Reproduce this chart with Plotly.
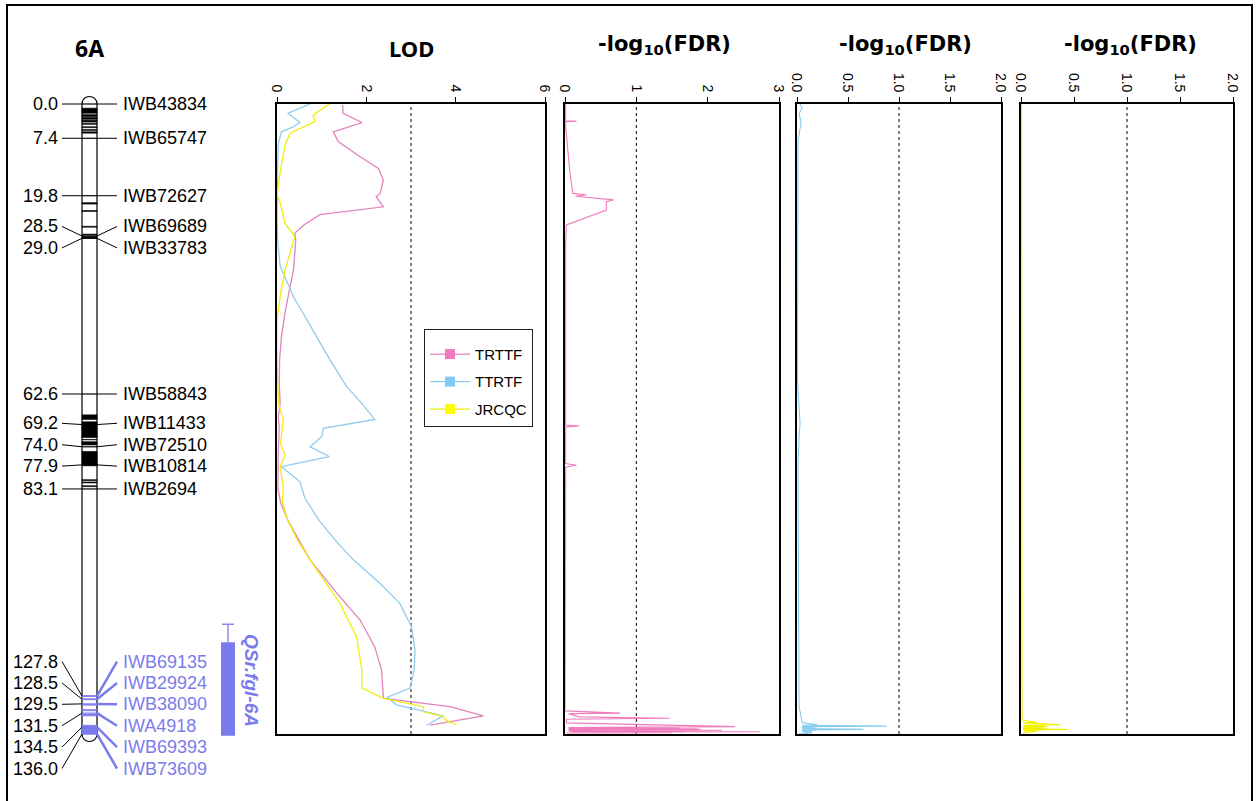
import plotly.graph_objects as go

# ---------------- data ----------------
marker_names = ["IWB43834", "IWB65747", "IWB72627", "IWB69689", "IWB33783", "IWB58843",
                "IWB11433", "IWB72510", "IWB10814", "IWB2694",
                "IWB69135", "IWB29924", "IWB38090", "IWA4918", "IWB69393", "IWB73609"]
marker_pos = [0.0, 7.4, 19.8, 28.5, 29.0, 62.6, 69.2, 74.0, 77.9, 83.1,
              127.8, 128.5, 129.5, 131.5, 134.5, 136.0]

# marker-dense segments on the linkage group (cM)
band_start = [0.9, 2.3, 2.9, 3.5, 4.2, 4.9, 5.5, 6.0, 21.3, 23.0, 26.4, 28.1, 28.6,
              67.1, 68.6, 69.3, 72.4, 72.9, 75.0, 81.1, 81.6, 82.4,
              127.7, 128.4, 129.6, 130.7, 131.7, 134.1]
band_end = [2.0, 2.7, 3.3, 3.9, 4.4, 5.1, 5.7, 6.3, 21.6, 23.2, 26.6, 28.3, 28.9,
            68.1, 69.1, 72.0, 72.5, 73.6, 78.1, 81.3, 81.8, 82.6,
            127.9, 128.6, 129.8, 131.0, 132.1, 136.0]

chrom_name = "6A"
qtl_name = "QSr.fgl-6A"
qtl_start, qtl_end = 116.2, 136.4
qtl_support = 112.3

trait_names = ["TRTTF", "TTRTF", "JRCQC"]
lod_threshold = 3
fdr_threshold = 1

lod_cm_trttf = [0.2, 2.0, 4.0, 6.0, 8.1, 11.4, 13.9, 16.4, 19.3, 20.0, 22.2, 23.9, 26.1, 27.9,
                29.4, 35.8, 40, 45, 50.2, 55, 60, 64.6, 67.5, 70, 75, 80, 83, 86, 90, 94,
                98.4, 105.6, 111.4, 117.2, 122.2, 127.9, 128.3, 130.1, 132.1, 134.1]
lod_trttf = [1.47, 1.48, 1.90, 1.26, 1.37, 1.86, 2.27, 2.38, 2.31, 2.22, 2.38, 0.96, 0.60, 0.40,
             0.42, 0.37, 0.28, 0.18, 0.10, 0.06, 0.05, 0.07, 0.03, 0.05, 0.03, 0.02, 0.02, 0.08,
             0.25, 0.48, 0.74, 1.34, 1.86, 2.19, 2.34, 2.38, 2.40, 3.87, 4.62, 3.43]

lod_cm_ttrtf = [0, 2.0, 4.0, 4.9, 6.0, 8.5, 15, 25, 30, 35, 41.6, 55.3, 61.0, 64.2, 68.1, 70.0,
                71.8, 74.0, 76.1, 78.3, 81.5, 85, 90, 95, 98.4, 103.5, 107.8, 112.8, 117.9,
                122.2, 126.1, 128.1, 129.7, 132.1, 134.1]
lod_ttrtf = [0.74, 0.25, 0.51, 0.37, 0.10, 0.03, 0.01, 0.00, 0.02, 0.07, 0.37, 1.19, 1.56, 1.86,
             2.19, 1.04, 1.00, 0.74, 1.17, 0.10, 0.51, 0.62, 0.95, 1.38, 1.71, 2.31, 2.75, 3.01,
             3.09, 3.07, 2.98, 2.46, 2.68, 3.72, 3.35]

lod_cm_jrcqc = [0, 2.4, 3.8, 6.3, 8.9, 14, 19.6, 21.4, 25.8, 28.6, 35.8, 41, 46.6, 55, 64.6,
                68.2, 73.3, 75.8, 78.3, 82.6, 86, 90, 94, 98.4, 107.8, 115.0, 122.2, 126.1,
                128.3, 130.1, 131.2, 132.2, 132.9, 134.0]
lod_jrcqc = [1.17, 0.81, 0.85, 0.29, 0.18, 0.08, 0.00, 0.07, 0.18, 0.40, 0.18, 0.08, 0.00, 0.00,
             0.03, 0.14, 0.08, 0.18, 0.07, 0.14, 0.12, 0.25, 0.45, 0.74, 1.41, 1.78, 1.90, 1.90,
             2.38, 3.28, 3.28, 3.72, 3.76, 4.02]

fdr_cm_trttf = [0, 3.6, 3.7, 3.8, 5, 10, 15, 19.3, 19.6, 19.9, 20.7, 21.1, 22.9, 26.1, 30, 50,
                69.3, 69.5, 69.7, 77.6, 78.0, 78.4, 100, 128.3, 131.0, 131.5, 131.6, 132.3, 132.6,
                132.8, 133.6, 134.4, 134.45, 134.5, 134.6, 134.65, 134.7, 134.8, 134.85, 134.9,
                134.95, 135.0, 135.05, 135.1, 135.15, 135.2, 135.25, 135.3, 135.35, 135.4,
                135.45, 135.5, 135.55, 135.6, 135.65, 135.7, 135.8]
fdr_trttf = [0.01, 0.01, 0.16, 0.01, 0.01, 0.04, 0.07, 0.11, 0.30, 0.15, 0.68, 0.58, 0.58, 0.02,
             0.01, 0.01, 0.01, 0.20, 0.01, 0.01, 0.16, 0.01, 0.01, 0.01, 0.00, 0.77, 0.05, 0.20,
             1.47, 0.02, 0.02, 2.38, 0.05, 1.40, 0.05, 1.60, 0.05, 1.30, 0.05, 1.80, 0.05, 1.90,
             0.05, 1.20, 0.05, 2.20, 0.05, 1.70, 0.05, 1.50, 0.10, 2.73, 0.10, 1.60, 0.10, 1.50,
             0.02]

fdr_cm_ttrtf = [0, 1, 2, 4, 8, 20, 60, 69, 72, 78, 130, 133.5, 134.0, 134.1, 134.3, 134.4, 134.5,
                134.6, 134.7, 134.8, 135.0, 135.1, 135.2, 135.3, 135.4, 135.5, 135.8, 136.0]
fdr_ttrtf = [0.03, 0.05, 0.02, 0.04, 0.01, 0.01, 0.005, 0.03, 0.02, 0.01, 0.02, 0.05, 0.20, 0.05,
             0.88, 0.05, 0.20, 0.05, 0.18, 0.05, 0.65, 0.05, 0.20, 0.05, 0.15, 0.05, 0.15, 0.02]

fdr_cm_jrcqc = [0, 30, 70, 100, 133.0, 133.5, 133.6, 133.8, 134.0, 134.1, 134.2, 134.3, 134.4,
                134.5, 134.6, 134.7, 134.8, 134.9, 135.0, 135.1, 135.2, 135.3, 135.4, 135.6, 136.0]
fdr_jrcqc = [0.005, 0.005, 0.005, 0.005, 0.01, 0.15, 0.02, 0.20, 0.37, 0.02, 0.22, 0.02, 0.25,
             0.02, 0.22, 0.02, 0.25, 0.02, 0.44, 0.02, 0.20, 0.02, 0.15, 0.05, 0.02]

# ---------------- layout constants ----------------
W, H = 1257, 801
TOP, BOT = 104, 734
CM_MAX = 136.0
PPC = (BOT - TOP) / CM_MAX          # pixels per cM
CHR_L, CHR_R = 82, 97
QTL_COLOR = "#7B7BEE"
LINE_COLORS = ["#E383BD", "#8FCDEB", "#EEEE10"]
FDR_COLORS = ["#F07CBD", "#86CBEF", "#F2F200"]
MARK_COLORS = ["#F07ABD", "#80CCF5", "#FFFF00"]
FONT = "Liberation Sans, Arial, sans-serif"
TFONT = "Noto Sans, Open Sans, sans-serif"
WFONT = "DejaVu Sans, Noto Sans, sans-serif"

panels = [
    dict(x0=277, x1=545, rng=[0, 6], dtick=2, fmt="d", thr=lod_threshold),
    dict(x0=565, x1=779, rng=[0, 3], dtick=1, fmt="d", thr=fdr_threshold),
    dict(x0=797, x1=1001, rng=[0, 2], dtick=0.5, fmt=".1f", thr=fdr_threshold),
    dict(x0=1021, x1=1233, rng=[0, 2], dtick=0.5, fmt=".1f", thr=fdr_threshold),
]

fig = go.Figure()

# LOD curves
lod_sets = [(lod_cm_trttf, lod_trttf), (lod_cm_ttrtf, lod_ttrtf), (lod_cm_jrcqc, lod_jrcqc)]
for i, (cm, v) in enumerate(lod_sets):
    fig.add_trace(go.Scatter(x=v, y=cm, mode="lines", xaxis="x", yaxis="y", showlegend=False,
                             line=dict(color=LINE_COLORS[i], width=1.3), hoverinfo="skip"))
# FDR curves
fdr_sets = [(fdr_cm_trttf, fdr_trttf), (fdr_cm_ttrtf, fdr_ttrtf), (fdr_cm_jrcqc, fdr_jrcqc)]
for i, (cm, v) in enumerate(fdr_sets):
    fig.add_trace(go.Scatter(x=v, y=cm, mode="lines", xaxis="x%d" % (i + 2), yaxis="y%d" % (i + 2),
                             showlegend=False, line=dict(color=FDR_COLORS[i], width=1.1),
                             hoverinfo="skip"))
# legend entries
for i, name in enumerate(trait_names):
    fig.add_trace(go.Scatter(x=[None], y=[None], mode="lines+markers", name=name,
                             xaxis="x", yaxis="y", legendgroup=name,
                             line=dict(color=LINE_COLORS[i], width=1.2),
                             marker=dict(symbol="square", size=10, color=MARK_COLORS[i])))

layout = dict(width=W, height=H, margin=dict(l=0, r=0, t=0, b=0, pad=0, autoexpand=False),
              paper_bgcolor="white", plot_bgcolor="rgba(0,0,0,0)",
              showlegend=True,
              legend=dict(x=424 / W, y=1 - 329 / H, xanchor="left", yanchor="top",
                          bordercolor="#222", borderwidth=1, bgcolor="white",
                          font=dict(family=FONT, size=15, color="black"),
                          title=dict(text=" ", font=dict(size=6)),
                          itemwidth=40, tracegroupgap=5, traceorder="grouped"))
ydom = [1 - BOT / H, 1 - TOP / H]
for k, p in enumerate(panels):
    sfx = "" if k == 0 else str(k + 1)
    layout["xaxis" + sfx] = dict(domain=[p["x0"] / W, p["x1"] / W], range=p["rng"], side="top",
                                 anchor="y" + sfx, dtick=p["dtick"], tick0=0, tickformat=p["fmt"],
                                 tickangle=90, ticks="outside", ticklen=5, tickcolor="black",
                                 showline=True, linecolor="black", linewidth=1.5, mirror=True,
                                 showgrid=False, zeroline=False, automargin=False,
                                 tickfont=dict(family=FONT, size=14, color="black"))
    layout["yaxis" + sfx] = dict(domain=ydom, range=[CM_MAX, 0], anchor="x" + sfx,
                                 showline=True, linecolor="black", linewidth=1.5, mirror=True,
                                 showticklabels=False, ticks="", showgrid=False, zeroline=False,
                                 automargin=False)
# pixel / cM overlay axes for the linkage map
layout["xaxis5"] = dict(domain=[0, 1], range=[0, W], anchor="y5", visible=False, automargin=False)
layout["yaxis5"] = dict(domain=[0, 1], range=[(H - TOP) / PPC, -TOP / PPC], anchor="x5",
                        visible=False, automargin=False)
fig.update_layout(**layout)

shapes = []
annotations = []

# thresholds
for k, p in enumerate(panels):
    sfx = "" if k == 0 else str(k + 1)
    shapes.append(dict(type="line", xref="x" + sfx, yref="y%s domain" % sfx, x0=p["thr"],
                       x1=p["thr"], y0=0, y1=1, line=dict(color="black", width=1, dash="dot"),
                       layer="below"))

# chromosome outline
k_cm = 10 / PPC
end = max(marker_pos)
path = (f"M {CHR_L},0 L {CHR_L},{end} C {CHR_L},{end + k_cm} {CHR_R},{end + k_cm} {CHR_R},{end} "
        f"L {CHR_R},0 C {CHR_R},{-k_cm} {CHR_L},{-k_cm} {CHR_L},0 Z")
shapes.append(dict(type="path", xref="x5", yref="y5", path=path, fillcolor="white",
                   line=dict(color="black", width=1.2)))


def in_qtl(c):
    return qtl_start <= c <= qtl_end


for s, e in zip(band_start, band_end):
    col = QTL_COLOR if in_qtl(s) else "black"
    shapes.append(dict(type="rect", xref="x5", yref="y5", x0=CHR_L, x1=CHR_R, y0=s, y1=e,
                       fillcolor=col, line=dict(color=col, width=0.6)))


# label de-overlap: clusters centred on the midpoint of their markers
def spread(px, gap):
    groups = [[i] for i in range(len(px))]

    def place(g):
        c = (min(px[i] for i in g) + max(px[i] for i in g)) / 2
        n = len(g)
        return [c + (j - (n - 1) / 2) * gap for j in range(n)]

    changed = True
    while changed:
        changed = False
        out = []
        for g in groups:
            if out and place(out[-1])[-1] + gap > place(g)[0] + 1e-9:
                out[-1] = out[-1] + g
                changed = True
                continue
            out.append(g)
        groups = out
    res = [0] * len(px)
    for g in groups:
        for i, y in zip(g, place(g)):
            res[i] = y
    return res


lab_px = spread([TOP + c * PPC for c in marker_pos], 21.4)
for name, c, lp in zip(marker_names, marker_pos, lab_px):
    lc = (lp - TOP) / PPC
    q = in_qtl(c)
    col = QTL_COLOR if q else "black"
    shapes.append(dict(type="line", xref="x5", yref="y5", x0=CHR_L, x1=CHR_R, y0=c, y1=c,
                       line=dict(color=col, width=1.2)))
    shapes.append(dict(type="line", xref="x5", yref="y5", x0=62, x1=CHR_L, y0=lc, y1=c,
                       line=dict(color="black", width=1)))
    shapes.append(dict(type="line", xref="x5", yref="y5", x0=CHR_R, x1=117, y0=c, y1=lc,
                       line=dict(color=col, width=2.5 if q else 1)))
    annotations.append(dict(xref="x5", yref="y5", x=60, y=lc, text="%.1f" % c, showarrow=False,
                            xanchor="right", yanchor="middle",
                            font=dict(family=FONT, size=18, color="black")))
    annotations.append(dict(xref="x5", yref="y5", x=121, y=lc, text=name, showarrow=False,
                            xanchor="left", yanchor="middle",
                            font=dict(family=FONT, size=18, color=col)))

# QTL bar
shapes.append(dict(type="rect", xref="x5", yref="y5", x0=221, x1=235, y0=qtl_start, y1=qtl_end,
                   fillcolor=QTL_COLOR, line=dict(color=QTL_COLOR, width=0)))
shapes.append(dict(type="line", xref="x5", yref="y5", x0=228, x1=228, y0=qtl_support,
                   y1=qtl_start, line=dict(color=QTL_COLOR, width=1.3)))
shapes.append(dict(type="line", xref="x5", yref="y5", x0=222, x1=234, y0=qtl_support,
                   y1=qtl_support, line=dict(color=QTL_COLOR, width=1.3)))
annotations.append(dict(xref="x5", yref="y5", x=252, y=(qtl_support + qtl_end) / 2,
                        text="<b><i>%s</i></b>" % qtl_name, textangle=90, showarrow=False,
                        xanchor="center", yanchor="middle",
                        font=dict(family=FONT, size=19, color=QTL_COLOR)))

# titles
titles = [(89, 48, chrom_name, TFONT, 23), (411, 48, "LOD", TFONT, 22),
          (664, 45, "-log<sub>10</sub>(FDR)", WFONT, 21),
          (905, 45, "-log<sub>10</sub>(FDR)", WFONT, 21),
          (1130, 45, "-log<sub>10</sub>(FDR)", WFONT, 21)]
for x, y, t, fam, sz in titles:
    annotations.append(dict(xref="paper", yref="paper", x=x / W, y=1 - y / H, text="<b>%s</b>" % t,
                            showarrow=False, xanchor="center", yanchor="middle",
                            font=dict(family=fam, size=sz, color="black")))

# outer frame
shapes.append(dict(type="rect", xref="paper", yref="paper", x0=7 / W, x1=1252 / W,
                   y0=-0.02, y1=1 - 5 / H, line=dict(color="black", width=2),
                   fillcolor="rgba(0,0,0,0)"))

fig.update_layout(shapes=shapes, annotations=annotations)
fig.write_html("out.html", post_script="document.body.style.margin='0px';")
